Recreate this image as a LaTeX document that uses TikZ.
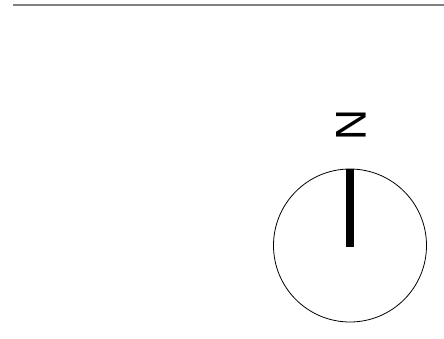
\documentclass[tikz,border=0pt]{standalone}
\usepackage{fontspec}
\setmainfont{Liberation Sans}
\tikzset{
  rule/.style={draw=black!50, line width=2pt},
  dial/.style={circle, draw=black, line width=0.8pt, minimum size=153pt, inner sep=0pt},
  needle/.style={line width=8pt, line cap=butt},
  northlabel/.style={font=\fontsize{43}{43}\selectfont, inner sep=0pt, rotate=-90}
}
\begin{document}
\begin{tikzpicture}[x=1pt,y=-1pt]
\useasboundingbox (0,0) rectangle (444,339);
\coordinate (rl) at (13,5);
\coordinate (rr) at (444,5);
\draw[rule] (rl) -- (rr);
\node[dial] (dial) at (350,245.5) {};
\coordinate (hub) at (350,247);
\draw[needle] (dial.north) -- (hub);
\node[northlabel] (n) at (351.5,125.5) {N};
\end{tikzpicture}
\end{document}
